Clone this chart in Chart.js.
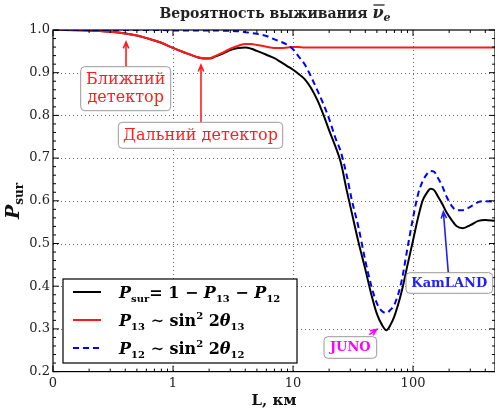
<!DOCTYPE html>
<html>
<head>
<meta charset="utf-8">
<script src="https://cdn.jsdelivr.net/npm/chart.js@4.4.0/dist/chart.umd.min.js"></script>
<style>
html, body { margin: 0; padding: 0; background: #fff; }
</style>
</head>
<body>
<canvas id="chart" width="495" height="409"></canvas>
<script>
// Distance L, km (log axis)
const distances = [0.1, 0.2, 0.3, 0.4, 0.5, 0.6, 0.8, 1.0, 1.2, 1.4, 1.6, 1.8, 2.0, 2.3, 2.6, 3.0, 3.5, 4.0, 4.5, 5,
    6, 7, 8, 9, 10, 11, 12.5, 14, 16, 18, 20, 22.5, 25, 28, 31, 35, 40, 45, 50, 55,
    60, 65, 70, 80, 90, 100, 110, 120, 130, 140, 150, 160, 175, 190, 210, 230, 260, 300, 350, 400, 480];

// P_sur = 1 - P13 - P12
const survival = [1.0, 0.999, 0.996, 0.992, 0.987, 0.981, 0.970, 0.958, 0.949, 0.942, 0.936, 0.933, 0.933, 0.939, 0.945, 0.953, 0.958, 0.959, 0.956, 0.951,
    0.942, 0.934, 0.924, 0.915, 0.907, 0.898, 0.885, 0.866, 0.835, 0.800, 0.765, 0.728, 0.690, 0.625, 0.570, 0.505, 0.440, 0.380, 0.335, 0.310,
    0.297, 0.310, 0.330, 0.385, 0.450, 0.507, 0.560, 0.600, 0.618, 0.628, 0.625, 0.612, 0.593, 0.573, 0.555, 0.541, 0.536, 0.543, 0.553, 0.555, 0.553];

// P13 ~ sin^2 2theta13 (shown as 1 - P13)
const p13Curve = [1.0, 0.999, 0.996, 0.992, 0.987, 0.981, 0.970, 0.958, 0.949, 0.942, 0.936, 0.934, 0.934, 0.940, 0.947, 0.956, 0.963, 0.967, 0.967, 0.965,
    0.961, 0.958, 0.958, 0.959, 0.960, 0.960, 0.959, 0.959, 0.959, 0.959, 0.959, 0.959, 0.959, 0.959, 0.959, 0.959, 0.959, 0.959, 0.959, 0.959,
    0.959, 0.959, 0.959, 0.959, 0.959, 0.959, 0.959, 0.959, 0.959, 0.959, 0.959, 0.959, 0.959, 0.959, 0.959, 0.959, 0.959, 0.959, 0.959, 0.959, 0.959];

// P12 ~ sin^2 2theta12 (shown as 1 - P12)
const p12Curve = [1.0, 1.0, 1.0, 1.0, 1.0, 1.0, 1.0, 0.999, 0.999, 0.999, 0.999, 0.999, 0.999, 0.999, 0.998, 0.998, 0.997, 0.995, 0.993, 0.991,
    0.986, 0.978, 0.972, 0.965, 0.955, 0.940, 0.920, 0.893, 0.858, 0.825, 0.792, 0.748, 0.715, 0.660, 0.600, 0.540, 0.460, 0.400, 0.360, 0.342,
    0.337, 0.345, 0.357, 0.410, 0.490, 0.560, 0.615, 0.645, 0.662, 0.670, 0.668, 0.655, 0.635, 0.610, 0.588, 0.578, 0.578, 0.586, 0.597, 0.599, 0.598];

const xTicks = [0.1, 1, 10, 100];
const xTickLabels = ['0', '1', '10', '100'];
const yTicks = [0.2, 0.3, 0.4, 0.5, 0.6, 0.7, 0.8, 0.9, 1.0];

const SERIF = 'DejaVu Serif';

function toPoints(values) {
    return distances.map((d, i) => ({ x: d, y: values[i] }));
}

// draw a row of text pieces (for sub/superscripts)
function drawRich(ctx, parts, x, y, align) {
    let w = 0;
    parts.forEach(p => { ctx.font = p.font; w += ctx.measureText(p.t).width; });
    let cx = align === 'center' ? x - w / 2 : x;
    ctx.textAlign = 'left';
    ctx.textBaseline = 'alphabetic';
    parts.forEach(p => {
        ctx.font = p.font;
        ctx.fillText(p.t, cx, y + (p.dy || 0));
        const tw = ctx.measureText(p.t).width;
        if (p.bar) {
            ctx.save();
            ctx.lineWidth = 1.3;
            ctx.strokeStyle = ctx.fillStyle;
            ctx.beginPath();
            ctx.moveTo(cx + 1, y - 13);
            ctx.lineTo(cx + tw + 1, y - 13);
            ctx.stroke();
            ctx.restore();
        }
        cx += tw;
    });
}

function roundBox(ctx, x, y, w, h, r) {
    ctx.beginPath();
    ctx.moveTo(x + r, y);
    ctx.arcTo(x + w, y, x + w, y + h, r);
    ctx.arcTo(x + w, y + h, x, y + h, r);
    ctx.arcTo(x, y + h, x, y, r);
    ctx.arcTo(x, y, x + w, y, r);
    ctx.closePath();
    ctx.fillStyle = '#fff';
    ctx.fill();
    ctx.lineWidth = 1;
    ctx.strokeStyle = '#999';
    ctx.stroke();
}

function arrow(ctx, x1, y1, x2, y2, color) {
    const a = Math.atan2(y2 - y1, x2 - x1);
    ctx.save();
    ctx.strokeStyle = color;
    ctx.lineWidth = 1.6;
    ctx.beginPath();
    ctx.moveTo(x1, y1);
    ctx.lineTo(x2, y2);
    ctx.moveTo(x2 - 7 * Math.cos(a - 0.4), y2 - 7 * Math.sin(a - 0.4));
    ctx.lineTo(x2, y2);
    ctx.lineTo(x2 - 7 * Math.cos(a + 0.4), y2 - 7 * Math.sin(a + 0.4));
    ctx.stroke();
    ctx.restore();
}

const gridPlugin = {
    id: 'gridPlugin',
    beforeDatasetsDraw(chart) {
        const { ctx, chartArea: a, scales: { x, y } } = chart;
        ctx.save();
        ctx.strokeStyle = '#666';
        ctx.lineWidth = 1;
        ctx.setLineDash([1, 3]);
        ctx.beginPath();
        xTicks.slice(1).forEach(v => {
            const px = Math.round(x.getPixelForValue(v)) + 0.5;
            ctx.moveTo(px, a.top);
            ctx.lineTo(px, a.bottom);
        });
        yTicks.slice(1, -1).forEach(v => {
            const py = Math.round(y.getPixelForValue(v)) + 0.5;
            ctx.moveTo(a.left, py);
            ctx.lineTo(a.right, py);
        });
        ctx.stroke();
        ctx.restore();
    },
    afterDatasetsDraw(chart) {
        const { ctx, chartArea: a, scales: { x, y } } = chart;
        ctx.save();

        // frame and inward ticks
        ctx.strokeStyle = '#000';
        ctx.lineWidth = 1.2;
        ctx.strokeRect(a.left, a.top, a.right - a.left, a.bottom - a.top);
        ctx.lineWidth = 1;
        ctx.beginPath();
        for (let e = -1; e <= 2; e++) {
            for (let m = 1; m <= 9; m++) {
                const v = m * Math.pow(10, e);
                if (v > x.max) break;
                const px = x.getPixelForValue(v);
                const len = m === 1 ? 6 : 3;
                ctx.moveTo(px, a.bottom); ctx.lineTo(px, a.bottom - len);
                ctx.moveTo(px, a.top); ctx.lineTo(px, a.top + len);
            }
        }
        for (let k = 10; k <= 50; k++) {
            const v = k / 50;
            const py = y.getPixelForValue(v);
            const len = k % 5 === 0 ? 6 : 3;
            ctx.moveTo(a.left, py); ctx.lineTo(a.left + len, py);
            ctx.moveTo(a.right, py); ctx.lineTo(a.right - len, py);
        }
        ctx.stroke();

        // legend
        const lx = 63, ly = 279, lw = 234, lh = 84;
        ctx.fillStyle = '#fff';
        ctx.fillRect(lx, ly, lw, lh);
        ctx.strokeStyle = '#000';
        ctx.lineWidth = 1.2;
        ctx.strokeRect(lx, ly, lw, lh);
        const big = 'bold 16px ' + SERIF;
        const bigI = 'italic bold 16px ' + SERIF;
        const sub = 'bold 10px ' + SERIF;
        const rows = [
            [{ t: 'P', font: bigI }, { t: 'sur', font: sub, dy: 4 }, { t: '= 1 − ', font: big }, { t: 'P', font: bigI },
             { t: '13', font: sub, dy: 4 }, { t: ' − ', font: big }, { t: 'P', font: bigI }, { t: '12', font: sub, dy: 4 }],
            [{ t: 'P', font: bigI }, { t: '13', font: sub, dy: 4 }, { t: ' ∼ sin', font: big }, { t: '2', font: sub, dy: -7 },
             { t: ' 2', font: big }, { t: 'θ', font: bigI }, { t: '13', font: sub, dy: 4 }],
            [{ t: 'P', font: bigI }, { t: '12', font: sub, dy: 4 }, { t: ' ∼ sin', font: big }, { t: '2', font: sub, dy: -7 },
             { t: ' 2', font: big }, { t: 'θ', font: bigI }, { t: '12', font: sub, dy: 4 }]
        ];
        chart.data.datasets.forEach((ds, i) => {
            const cy = 292 + i * 28;
            ctx.save();
            ctx.strokeStyle = ds.borderColor;
            ctx.lineWidth = ds.borderWidth;
            ctx.setLineDash(ds.borderDash || []);
            ctx.beginPath();
            ctx.moveTo(73, cy);
            ctx.lineTo(101, cy);
            ctx.stroke();
            ctx.restore();
            ctx.fillStyle = '#000';
            drawRich(ctx, rows[i], 119, cy + 6, 'left');
        });

        // annotations
        const annR = '16px ' + SERIF;
        // near detector
        arrow(ctx, 126, 66.7, x.getPixelForValue(0.406), y.getPixelForValue(0.972), 'rgb(255,30,30)');
        roundBox(ctx, 80.7, 66.7, 90, 44, 4);
        ctx.fillStyle = 'rgb(255,30,30)';
        ctx.textAlign = 'center';
        ctx.textBaseline = 'middle';
        ctx.font = annR;
        ctx.fillText('Ближний', 125.7, 80);
        ctx.fillText('детектор', 125.7, 98);
        // far detector
        arrow(ctx, 201, 122.3, x.getPixelForValue(1.71), y.getPixelForValue(0.918), 'rgb(255,30,30)');
        roundBox(ctx, 118.3, 122.3, 164.4, 26, 4);
        ctx.fillStyle = 'rgb(255,30,30)';
        ctx.textAlign = 'center';
        ctx.font = annR;
        ctx.fillText('Дальний детектор', 200.5, 135.5);
        // KamLAND
        arrow(ctx, 448.3, 272.7, x.getPixelForValue(179), y.getPixelForValue(0.574), '#2020ff');
        roundBox(ctx, 406, 272.7, 86.7, 20.6, 4);
        ctx.fillStyle = '#2020ff';
        ctx.textAlign = 'center';
        ctx.font = 'bold 13px ' + SERIF;
        ctx.fillText('KamLAND', 449.3, 283.5);
        // JUNO
        arrow(ctx, 369.3, 334.6, x.getPixelForValue(49.8), y.getPixelForValue(0.299), '#ff00ff');
        roundBox(ctx, 324, 336.7, 52.7, 21.6, 4);
        ctx.fillStyle = '#ff00ff';
        ctx.textAlign = 'center';
        ctx.font = 'bold 13px ' + SERIF;
        ctx.fillText('JUNO', 350.3, 348);

        // titles
        ctx.fillStyle = '#222';
        drawRich(ctx, [{ t: 'Вероятность выживания ', font: 'bold 14px ' + SERIF },
                       { t: 'ν', font: 'italic bold 16px ' + SERIF, bar: true },
                       { t: 'e', font: 'italic bold 11px ' + SERIF, dy: 3 }], 275, 18, 'center');
        ctx.fillStyle = '#111';
        ctx.font = 'bold 15px ' + SERIF;
        ctx.textAlign = 'center';
        ctx.textBaseline = 'alphabetic';
        ctx.fillText('L, км', 274, 405);
        ctx.save();
        ctx.translate(19, 201);
        ctx.rotate(-Math.PI / 2);
        drawRich(ctx, [{ t: 'P', font: 'italic bold 19px ' + SERIF }, { t: 'sur', font: 'bold 12px ' + SERIF, dy: 4 }], 0, 0, 'center');
        ctx.restore();

        ctx.restore();
    }
};

new Chart(document.getElementById('chart'), {
    type: 'line',
    data: {
        datasets: [
            {
                label: 'P_sur = 1 - P13 - P12',
                data: toPoints(survival),
                borderColor: '#000',
                borderWidth: 2,
                order: 2
            },
            {
                label: 'P13 ~ sin^2 2theta13',
                data: toPoints(p13Curve),
                borderColor: 'rgb(255,25,25)',
                borderWidth: 2,
                order: 1
            },
            {
                label: 'P12 ~ sin^2 2theta12',
                data: toPoints(p12Curve),
                borderColor: '#0000ff',
                borderWidth: 2,
                borderDash: [6, 4],
                order: 0
            }
        ]
    },
    options: {
        responsive: false,
        animation: false,
        devicePixelRatio: 1,
        layout: { padding: { top: 30, left: 0, right: 0, bottom: 0 } },
        elements: {
            point: { radius: 0 },
            line: { cubicInterpolationMode: 'monotone', fill: false }
        },
        plugins: {
            legend: { display: false },
            title: { display: false },
            tooltip: { enabled: false }
        },
        scales: {
            x: {
                type: 'logarithmic',
                min: 0.1,
                max: 482,
                grid: { display: false, drawTicks: false },
                border: { display: false },
                afterBuildTicks: s => { s.ticks = xTicks.map(v => ({ value: v })); },
                afterFit: s => { s.height = 37.4; },
                ticks: {
                    padding: 4,
                    color: '#222',
                    font: { family: SERIF, size: 13 },
                    maxRotation: 0,
                    callback: (v) => xTickLabels[xTicks.indexOf(v)]
                }
            },
            y: {
                min: 0.2,
                max: 1.0,
                grid: { display: false, drawTicks: false },
                border: { display: false },
                afterBuildTicks: s => { s.ticks = yTicks.map(v => ({ value: v })); },
                afterFit: s => { s.width = 53; },
                ticks: {
                    padding: 3,
                    color: '#222',
                    font: { family: SERIF, size: 13 },
                    callback: v => v.toFixed(1)
                }
            }
        }
    },
    plugins: [gridPlugin]
});
</script>
</body>
</html>
